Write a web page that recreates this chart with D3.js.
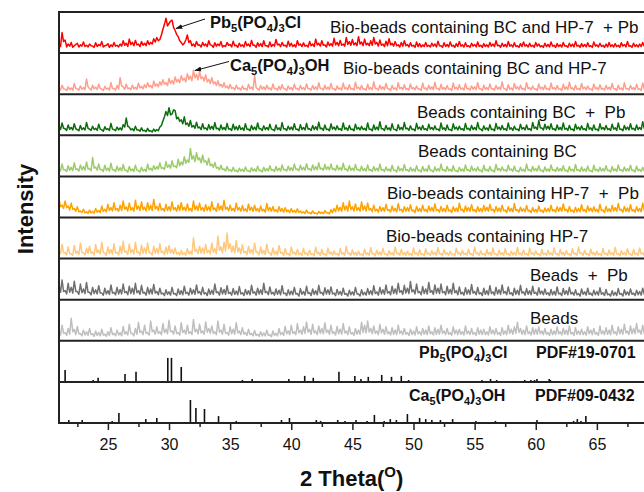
<!DOCTYPE html>
<html><head><meta charset="utf-8">
<script src="https://cdn.jsdelivr.net/npm/d3@7"></script>
<style>
body{margin:0;background:#fff}
svg{display:block;font-family:"Liberation Sans",Arial,Helvetica,sans-serif}
.pre{white-space:pre}
</style>
</head><body><svg id="c" width="644" height="492"></svg>
<script>
// ---------- DATA ----------
// sampling grid of the measured patterns (2θ, degrees)
const thetaStart = 21, thetaStep = 0.125;

const sampleLabels = [
  "Bio-beads containing BC and HP-7  + Pb",
  "Bio-beads containing BC and HP-7",
  "Beads containing BC  +  Pb",
  "Beads containing BC",
  "Bio-beads containing HP-7  +  Pb",
  "Bio-beads containing HP-7",
  "Beads  +  Pb",
  "Beads"
];

// relative intensities (0-100 of panel height), 40 values per 5 degrees
const bioBCHP7Pb = [
24,16,50,28,32,15,22,17,26,14,18,21,24,15,20,17,27,16,19,15,22,18,17,14,25,16,21,18,28,15,18,19,23,14,20,16,26,17,19,15,
22,17,30,19,24,16,34,21,26,18,31,20,22,16,28,19,24,18,30,21,26,22,35,27,38,30,33,44,58,70,85,66,72,78,80,62,55,45,40,30,
26,20,24,32,44,26,30,18,22,16,28,19,20,15,26,18,22,16,30,20,19,14,25,17,22,18,28,15,18,16,26,19,21,15,29,18,19,14,24,17,
20,15,28,18,22,16,31,19,19,14,25,17,23,16,30,18,18,15,27,16,21,17,33,20,22,16,26,18,19,15,29,17,24,16,20,15,30,19,22,16,
25,17,19,15,28,18,22,16,34,20,24,17,30,19,20,15,27,18,23,17,36,20,26,18,31,19,22,17,38,21,28,19,33,20,25,18,40,22,27,18,
34,20,24,18,30,19,38,22,26,17,32,19,22,16,29,18,35,20,24,17,28,18,20,15,26,17,30,18,21,15,25,17,19,14,27,16,23,15,20,16,
26,16,19,15,24,17,22,15,29,18,18,14,25,16,21,15,27,17,19,14,23,16,28,17,20,15,25,16,18,14,24,17,21,15,27,16,19,14,23,16,
20,15,26,17,22,16,30,18,19,14,24,16,21,15,28,17,20,15,25,16,18,14,23,16,27,17,20,15,24,16,19,14,26,17,22,15,18,14,24,16,
21,15,27,17,19,14,23,16,20,15,26,17,18,14,24,16,22,15,28,17,19,14,23,16,21,15,25,16,18,14,27,17,20,15,24,16,19,14,22,15,
26,16,20,15,23,16,19,14,25,17,21,15,28,17,18,14,24,16,20,15,22,16,26,17,19,14,23,16,21,15,25,16];

const bioBCHP7 = [
14,10,22,13,12,9,18,11,15,10,26,14,13,10,20,12,16,11,37,18,14,10,22,13,17,11,25,14,12,9,19,12,15,10,28,14,14,10,21,12,
40,20,18,12,24,14,15,11,22,13,17,12,27,15,19,13,23,16,28,18,21,15,32,20,25,18,30,22,35,24,28,21,38,26,33,25,42,30,36,28,
45,34,39,30,50,36,44,33,58,40,48,35,55,38,42,32,47,30,36,26,40,25,30,21,33,20,24,17,28,16,20,13,24,14,16,11,22,13,15,10,
20,12,14,10,24,13,17,11,46,16,13,10,21,12,18,11,22,13,15,10,25,13,14,10,19,11,23,13,13,9,20,12,16,10,24,13,14,10,21,12,
16,11,25,13,13,10,21,12,18,11,28,14,14,10,22,12,17,11,26,13,13,9,20,12,15,10,27,13,16,11,23,12,14,10,29,14,17,11,21,12,
13,10,24,12,16,11,30,14,14,10,22,12,18,11,26,13,13,9,21,12,15,10,28,13,17,11,23,12,14,10,25,13,16,11,20,12,13,9,27,13,
15,10,22,12,18,11,29,14,14,10,24,12,16,11,21,12,13,9,27,13,17,11,23,12,15,10,26,13,14,10,20,12,18,11,28,13,13,9,22,12,
16,11,25,13,14,10,21,12,17,11,30,14,13,9,23,12,15,10,26,13,18,11,22,12,14,10,28,13,16,11,20,12,13,9,25,13,17,11,22,12,
14,10,27,13,16,11,21,12,13,9,24,12,18,11,29,14,15,10,22,12,14,10,26,13,17,11,20,12,13,9,25,13,16,11,23,12,14,10,21,12,
17,11,26,13,13,9,22,12,15,10,28,13,14,10,21,12,16,11,24,12,13,9,27,13,15,10,20,12,17,11,23,12];

const beadsBCPb = [
22,14,30,17,16,12,25,15,19,13,28,16,14,11,24,14,18,13,31,17,15,12,22,14,17,12,27,15,13,10,21,14,16,12,29,15,14,11,20,13,
18,13,26,20,42,22,20,13,16,11,22,13,13,10,18,11,12,9,17,10,11,8,15,10,14,11,20,24,35,45,58,48,67,50,52,62,60,40,44,34,
38,28,45,26,30,22,36,20,24,17,32,18,20,14,28,16,18,13,26,15,22,14,31,16,17,12,25,14,19,13,29,15,16,12,27,14,21,13,24,14,
18,12,28,15,15,11,24,14,20,13,30,16,16,12,23,14,19,13,27,15,14,11,25,14,18,12,31,16,16,12,22,14,20,13,28,15,15,11,26,14,
19,13,29,15,16,12,24,14,21,13,32,16,17,12,25,14,15,11,28,15,20,13,23,14,16,12,30,15,18,12,24,14,15,11,27,15,19,13,22,14,
17,12,30,15,15,11,25,14,20,13,33,16,16,12,24,14,18,12,28,15,14,11,26,14,19,13,31,16,17,12,23,14,15,11,29,15,20,13,24,14,
16,12,27,15,19,13,23,14,15,11,30,15,18,12,25,14,14,11,28,15,20,13,22,14,16,12,29,15,17,12,24,14,19,13,31,16,15,11,23,14,
18,12,26,14,15,11,29,15,20,13,24,14,16,12,30,15,18,12,22,14,15,11,27,15,19,13,25,14,16,12,31,17,20,14,36,18,18,13,27,15,
22,14,28,15,16,12,25,14,19,13,30,15,17,12,24,14,15,11,27,15,20,13,23,14,16,12,29,15,18,12,25,14,15,11,28,15,19,13,24,14,
16,12,27,15,18,12,30,15,15,11,24,14,20,13,28,15,17,12,25,14,19,14,33,17,21,15,38,20,24,16,30,18];

const beadsBC = [
20,13,30,16,16,12,26,15,22,14,33,17,18,13,28,16,24,15,35,18,19,14,46,20,23,15,30,16,17,12,27,15,20,13,32,16,16,12,25,14,
21,13,29,15,15,11,24,14,18,12,27,15,14,11,22,13,17,12,30,16,20,14,26,17,24,18,33,20,21,17,36,22,28,20,38,24,25,21,42,26,
35,28,48,32,40,34,68,42,50,36,58,40,45,33,52,35,38,28,44,26,30,22,34,20,22,16,27,17,18,13,24,14,16,12,22,13,15,11,20,13,
17,12,23,14,14,11,21,13,18,12,25,14,15,11,22,13,19,13,26,15,16,12,24,14,20,13,28,16,17,13,25,15,21,14,30,17,18,14,27,16,
22,15,31,17,19,14,28,16,24,16,33,18,20,15,29,17,23,16,30,17,19,14,27,16,21,15,32,17,18,13,26,15,20,14,29,16,17,13,25,14,
19,13,28,15,16,12,24,14,20,13,30,15,17,12,23,14,18,12,27,15,15,11,25,14,19,13,29,15,16,12,22,13,18,12,26,14,15,11,24,13,
18,12,27,14,15,11,23,13,19,13,30,15,16,12,24,14,17,12,26,14,14,11,22,13,18,12,28,15,16,12,25,14,19,13,23,14,15,11,27,14,
17,12,24,14,15,11,29,15,19,13,23,14,16,12,27,15,18,12,25,14,14,11,22,13,17,12,30,15,16,12,24,14,19,13,26,14,15,11,23,13,
18,12,28,15,16,12,22,13,19,13,26,14,15,11,24,14,17,12,29,15,16,12,23,13,18,12,25,14,14,11,27,14,17,12,22,13,19,13,26,14,
15,11,24,14,18,12,28,15,16,12,23,13,19,13,27,14,15,11,25,14,17,12,22,13,19,13,29,15,16,12,24,14];

const bioHP7Pb = [
45,26,30,22,40,24,28,18,35,20,22,15,26,14,16,12,20,11,14,10,18,11,15,10,22,13,17,12,28,15,20,14,32,17,24,16,36,18,22,15,
30,17,40,20,26,16,35,18,24,15,42,20,28,17,38,19,25,16,36,18,30,17,44,21,27,17,34,18,22,15,32,17,26,16,38,19,24,15,30,17,
36,18,25,16,33,17,22,15,40,19,28,17,35,18,24,15,31,17,26,16,38,19,23,15,34,18,28,17,42,20,25,16,30,17,22,15,35,18,24,15,
29,16,21,14,33,17,25,15,30,16,22,14,28,16,20,13,34,17,24,15,27,15,19,13,26,15,22,13,24,14,18,12,22,13,17,12,21,12,16,11,
14,10,18,11,12,9,16,10,11,8,15,10,13,9,17,11,12,9,19,12,22,14,30,16,25,15,36,18,28,16,40,19,26,16,33,17,24,15,38,18,
28,16,35,18,22,14,30,16,20,13,27,15,24,15,32,17,19,13,28,16,22,14,34,17,20,13,26,15,24,15,31,16,18,12,27,15,22,14,30,16,
20,13,28,16,24,15,33,17,19,13,27,15,22,14,30,16,18,12,26,15,23,14,35,18,20,13,28,16,24,15,31,16,19,13,26,15,22,14,29,16,
25,15,32,17,20,13,27,15,23,14,30,16,18,12,26,15,22,14,34,17,19,13,25,15,21,14,29,16,17,12,24,14,20,13,28,15,18,12,23,14,
22,14,30,16,19,13,26,15,24,15,33,17,20,13,27,15,18,12,25,14,22,14,31,16,19,13,28,16,23,14,26,15,20,13,32,17,18,12,27,15,
21,14,29,16,24,15,34,18,20,13,27,15,23,14,31,16,19,13,26,15,22,14,35,18,25,15,30,17,21,14,28,16];

const bioHP7 = [
20,11,35,14,15,9,28,12,12,8,32,13,18,10,38,15,14,9,25,12,30,13,16,9,34,14,20,11,40,15,13,8,28,12,22,11,36,14,15,9,
30,13,42,16,18,10,35,14,22,11,40,15,16,9,33,13,26,12,38,14,14,9,30,13,24,12,36,14,18,10,28,12,32,13,22,11,26,11,15,9,
20,10,14,8,24,11,18,10,50,18,22,12,30,13,26,12,34,14,20,11,38,15,24,12,55,20,28,14,40,18,62,24,36,16,30,14,44,17,26,12,
34,14,18,10,30,13,22,11,38,15,16,9,28,12,20,10,35,14,14,8,26,11,18,9,32,13,15,8,24,11,12,7,28,12,16,9,22,10,13,8,
25,11,14,8,20,10,12,7,28,12,15,8,22,10,11,7,26,11,16,9,19,10,12,7,24,11,14,8,30,12,13,8,21,10,15,8,18,9,11,7,
23,10,14,8,27,11,12,7,20,10,16,9,25,11,11,7,19,10,14,8,28,12,13,8,22,10,15,8,18,9,12,7,26,11,14,8,21,10,11,7,
24,11,13,8,19,10,15,8,27,11,12,7,22,10,14,8,18,9,11,7,25,11,15,8,20,10,13,8,23,10,12,7,28,12,14,8,19,10,12,7,
22,10,15,8,26,11,11,7,20,10,14,8,24,11,12,7,18,9,15,8,27,11,13,8,21,10,12,7,25,11,14,8,19,10,11,7,23,10,13,8,
20,10,14,8,26,11,12,7,22,10,15,8,19,10,11,7,24,11,13,8,28,12,14,8,20,10,12,7,23,10,15,8,18,9,12,7,25,11,13,8,
21,10,14,8,27,11,12,7,19,10,15,8,24,11,11,7,22,10,13,8,26,11,14,8,20,10,12,7,23,10,15,8];

const beadsPb = [
35,18,48,20,22,14,40,18,30,16,45,20,20,13,38,17,26,15,42,18,18,12,30,15,24,14,34,16,16,11,28,14,22,13,36,16,18,12,30,14,
25,14,38,17,20,12,33,15,28,14,40,17,22,13,35,16,18,11,30,14,26,14,37,16,20,12,28,14,16,10,24,13,19,11,30,14,15,10,26,13,
22,12,33,15,18,11,28,14,24,13,36,16,20,12,30,14,17,10,26,13,23,13,38,17,19,11,29,14,25,13,34,15,18,11,27,13,21,12,32,14,
17,10,25,13,22,12,35,16,19,11,28,14,24,13,40,17,20,12,31,14,18,11,26,13,23,12,34,15,16,10,24,12,21,12,30,14,15,9,27,13,
20,11,33,15,17,10,26,13,22,12,35,16,18,11,29,14,24,13,31,14,16,10,25,13,20,11,28,13,15,9,23,12,19,11,30,14,14,9,24,12,
18,11,27,13,22,12,34,15,19,11,30,14,24,13,36,16,20,12,33,15,26,14,40,18,22,13,35,16,28,15,44,19,24,14,38,17,20,12,32,15,
26,14,42,18,22,13,36,16,28,15,38,17,20,12,33,15,25,14,40,17,22,12,31,14,18,11,29,14,24,13,37,16,20,12,30,14,17,10,28,13,
22,12,34,15,19,11,30,14,24,13,36,16,20,12,31,14,17,10,28,13,23,12,35,16,19,11,27,13,22,12,33,15,18,11,29,14,21,12,26,13,
17,10,25,12,20,11,31,14,16,10,27,13,22,12,30,14,18,11,24,12,15,9,26,13,19,11,28,13,16,10,23,12,20,11,29,13,17,10,25,12,
14,9,22,11,18,10,27,13,15,9,24,12,19,11,26,13,16,10,23,12,20,11,28,13,17,10,25,12,21,12,30,14];

const beads = [
25,14,38,18,20,13,30,16,55,22,28,15,35,17,18,12,26,14,22,13,30,15,17,11,24,13,20,12,28,14,16,11,22,13,32,15,18,12,26,14,
20,12,35,16,22,14,40,18,18,12,30,16,45,20,24,15,38,18,20,14,48,22,26,16,34,18,22,15,42,20,28,17,50,22,24,16,36,18,20,14,
44,20,26,16,38,18,22,15,52,22,28,17,40,19,24,16,46,21,30,18,36,18,22,15,48,21,26,16,40,18,20,14,34,17,28,16,44,19,24,15,
32,16,20,13,28,15,18,12,25,13,16,11,22,12,19,12,26,13,15,10,24,13,18,12,30,15,20,13,35,17,24,15,38,18,22,15,42,19,26,16,
34,18,46,21,28,16,40,19,24,15,36,18,30,17,44,20,26,16,38,18,22,14,35,17,28,16,42,19,24,15,34,17,20,13,30,16,26,16,45,20,
38,19,48,21,30,17,36,18,24,15,40,19,28,16,34,17,22,14,32,16,26,15,38,18,24,15,30,16,20,13,28,15,24,14,34,17,22,14,30,16,
26,15,36,17,22,14,32,16,28,16,38,18,24,15,30,16,20,13,34,17,26,15,28,16,22,14,36,17,24,15,30,16,20,13,32,16,26,15,28,15,
22,14,34,17,26,15,30,16,20,13,32,16,24,15,38,18,28,16,34,18,45,20,30,16,26,15,36,17,22,14,32,16,28,16,34,17,24,15,30,16,
20,13,28,15,24,15,34,17,22,14,30,16,26,15,36,17,20,13,32,16,24,15,28,15,22,14,34,17,26,15,30,16,20,13,36,17,24,15,32,16,
26,15,38,18,22,14,34,17,28,16,40,19,24,15,36,17,30,17,42,20,26,16,38,18,28,17,44,20,24,16,36,18];

// reference patterns: [2θ, relative intensity]
const pbClPDF = [[21.5,50],[23.8,8],[24.2,17],[26.4,33],[27.3,42],[29.9,100],[30.2,100],[31.0,62],
 [36.0,8],[36.8,12],[39.8,12],[41.1,25],[41.8,17],[43.9,42],[45.2,25],[45.7,12],[46.3,21],[47.4,29],
 [48.2,21],[49.0,25],[49.6,8],[53.4,4],[53.8,4],[54.4,4],[55.6,8],[56.3,12],[56.8,8],[58.2,4],[59.1,8],
 [59.6,8],[59.9,8],[60.1,12],[61.1,12],[61.2,8],[66.9,4],[68.0,4]];
const caOHPDF = [[21.8,13],[22.9,13],[25.35,9],[25.9,43],[28.1,17],[29.0,22],[31.75,100],[32.2,65],
 [32.9,61],[34.05,30],[35.5,9],[39.2,13],[39.85,22],[40.45,4],[42.05,13],[42.4,9],[43.8,13],[44.4,9],
 [45.3,13],[46.2,9],[46.8,35],[47.6,9],[48.1,17],[48.6,13],[49.5,39],[50.5,22],[51.0,17],[51.5,13],
 [52.2,13],[53.2,17],[55.1,9],[56.0,4],[56.7,9],[58.7,4],[60.1,13],[61.5,4],[63.1,9],[63.4,17],
 [63.7,9],[64.1,30],[65.7,4],[67.2,4]];

const xTicks = [25,30,35,40,45,50,55,60,65];
const xMinorTicks = [22.5,27.5,32.5,37.5,42.5,47.5,52.5,57.5,62.5,67.5];

// ---------- LAYOUT / STYLE ----------
const traces = [bioBCHP7Pb, bioBCHP7, beadsBCPb, beadsBC, bioHP7Pb, bioHP7, beadsPb, beads];
const colors = ["#ff0000","#ff9e8c","#0b6e0b","#9ccc6a","#ffa200","#ffc87c","#707070","#bfbfbf"];
const labelPos = [[330,33],[343,74],[417,118],[418,157],[387,199],[386,242],[530,281],[530,324]];

const svg = d3.select("#c");
const W = 644;
const x = d3.scaleLinear().domain([21,70]).range([59,658]);
const panelY = d3.scaleLinear().domain([0,10]).range([12,423]);

svg.append("defs").append("clipPath").attr("id","plot")
  .append("rect").attr("x",59).attr("y",12).attr("width",W-59).attr("height",411);
const marker = svg.select("defs").append("marker").attr("id","arr")
  .attr("viewBox","0 0 10 10").attr("refX",9).attr("refY",5)
  .attr("markerWidth",7).attr("markerHeight",7).attr("orient","auto-start-reverse")
  .attr("markerUnits","userSpaceOnUse");
marker.append("path").attr("d","M0,1.5L10,5L0,8.5z").attr("fill","#111");

const plot = svg.append("g").attr("clip-path","url(#plot)");

// traces
traces.forEach((vals,i)=>{
  const top = panelY(i), bot = panelY(i+1);
  const y = d3.scaleLinear().domain([0,100]).range([bot, top]);
  const line = d3.line().x((d,j)=>x(thetaStart + j*thetaStep)).y(d=>y(d));
  plot.append("path").datum(vals).attr("d",line)
    .attr("fill","none").attr("stroke",colors[i]).attr("stroke-width",1.5)
    .attr("stroke-linejoin","round");
  svg.append("text").attr("class","pre").attr("x",labelPos[i][0]).attr("y",labelPos[i][1])
    .attr("font-size",17).attr("fill","#111").text(sampleLabels[i]);
});

// stick patterns
[[pbClPDF,8,24],[caOHPDF,9,23]].forEach(([sticks,i,h])=>{
  const bot = panelY(i+1);
  const y = d3.scaleLinear().domain([0,100]).range([bot, bot-h]);
  plot.selectAll(null).data(sticks).enter().append("line")
    .attr("x1",d=>x(d[0])).attr("x2",d=>x(d[0]))
    .attr("y1",bot).attr("y2",d=>y(d[1]))
    .attr("stroke","#111").attr("stroke-width",1.6);
});

// frames
d3.range(0,11).forEach(k=>{
  svg.append("line").attr("x1",58).attr("x2",W).attr("y1",panelY(k)).attr("y2",panelY(k))
    .attr("stroke","#222").attr("stroke-width",2);
});
svg.append("line").attr("x1",59).attr("x2",59).attr("y1",11).attr("y2",424)
  .attr("stroke","#222").attr("stroke-width",2);

// x axis
const axG = svg.append("g").attr("transform","translate(0,423)");
axG.call(d3.axisBottom(x).tickValues(xTicks).tickSize(7).tickPadding(9).tickFormat(d3.format("d")));
const minG = svg.append("g").attr("transform","translate(0,423)");
minG.call(d3.axisBottom(x).tickValues(xMinorTicks).tickSize(4).tickFormat(""));
[axG,minG].forEach(g=>{
  g.select(".domain").remove();
  g.selectAll(".tick line").attr("stroke","#222").attr("stroke-width",1.5);
});
axG.selectAll(".tick text").attr("font-size",16).attr("fill","#111")
  .attr("font-family","'Liberation Sans',Arial,sans-serif");

// titles
svg.append("text").attr("transform","translate(33,209) rotate(-90)")
  .attr("text-anchor","middle").attr("font-size",22).attr("font-weight","bold").attr("fill","#111")
  .text("Intensity");
const xt = svg.append("text").attr("x",300).attr("y",486).attr("font-size",22)
  .attr("font-weight","bold").attr("fill","#111");
xt.append("tspan").text("2 Theta(");
xt.append("tspan").attr("font-size",15).attr("dy",-9).text("O");
xt.append("tspan").attr("dy",9).text(")");

// formula helper
function formula(xp, yp, parts, size){
  const t = svg.append("text").attr("x",xp).attr("y",yp).attr("font-size",size)
    .attr("font-weight","bold").attr("fill","#111");
  let shifted = false;
  parts.forEach(p=>{
    const sub = /^\d$/.test(p);
    const ts = t.append("tspan").text(p);
    if(sub){ ts.attr("font-size",size*0.68).attr("dy",4); shifted = true; }
    else if(shifted){ ts.attr("dy",-4); shifted=false; }
  });
}
const pbParts = ["Pb","5","(PO","4",")","3","Cl"];
const caParts = ["Ca","5","(PO","4",")","3","OH"];
formula(210,28,pbParts,16.5);
formula(230,71,caParts,16.5);
formula(419,358,pbParts,16);
formula(409,401,caParts,16);
svg.append("text").attr("x",536).attr("y",358).attr("font-size",16).attr("font-weight","bold")
  .attr("fill","#111").text("PDF#19-0701");
svg.append("text").attr("x",535).attr("y",401).attr("font-size",16).attr("font-weight","bold")
  .attr("fill","#111").text("PDF#09-0432");

// arrows
svg.append("line").attr("x1",205).attr("y1",19).attr("x2",176).attr("y2",28.5)
  .attr("stroke","#111").attr("stroke-width",1).attr("marker-end","url(#arr)");
svg.append("line").attr("x1",229).attr("y1",61.5).attr("x2",195).attr("y2",70.5)
  .attr("stroke","#111").attr("stroke-width",1).attr("marker-end","url(#arr)");
</script>
</body></html>
